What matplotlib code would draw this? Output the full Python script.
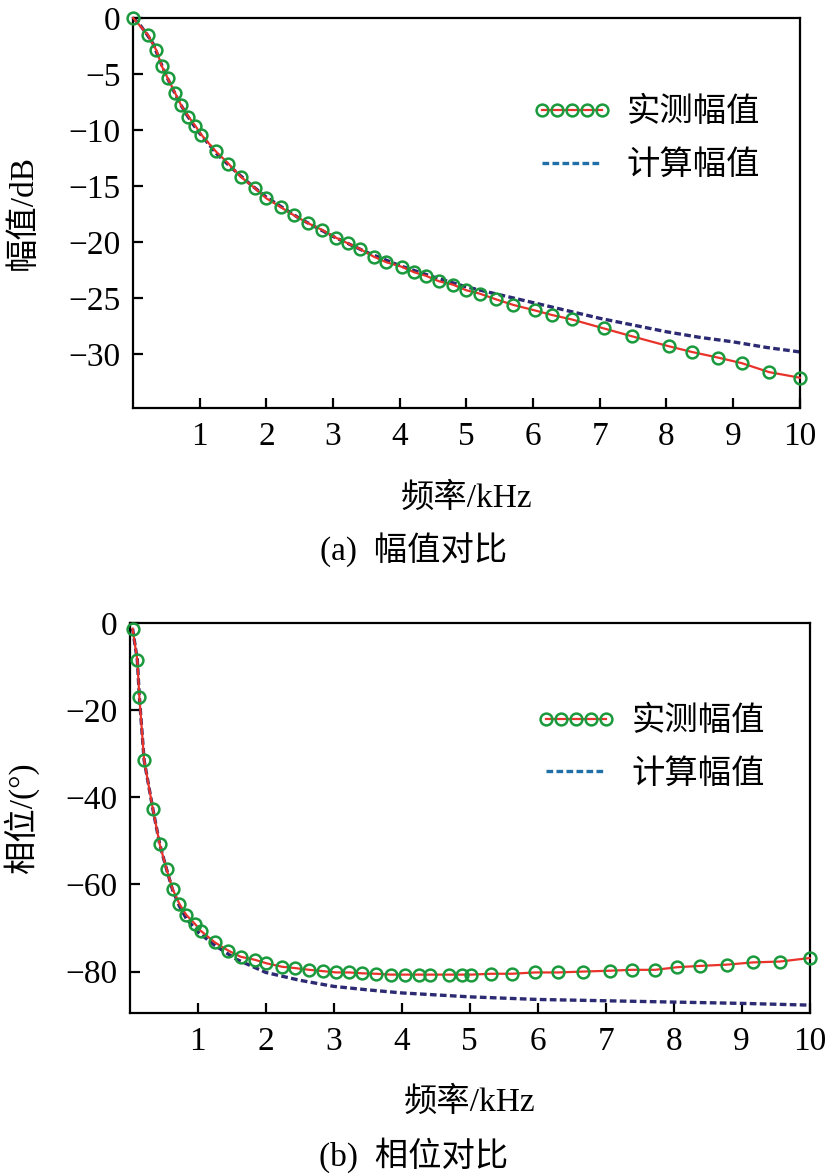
import numpy as np
import matplotlib
matplotlib.use("Agg")
import matplotlib.pyplot as plt
from matplotlib.lines import Line2D

plt.rcParams['font.family'] = ['Liberation Serif', 'Noto Sans CJK SC']
plt.rcParams['axes.unicode_minus'] = True

# 幅值对比 (a)
mag_f = [0, 0.22, 0.35, 0.43, 0.52, 0.63, 0.72, 0.83, 0.93, 1.02, 1.24, 1.43, 1.62, 1.83, 2.0,
         2.22, 2.41, 2.62, 2.83, 3.04, 3.22, 3.4, 3.61, 3.8, 4.03, 4.22, 4.39, 4.59, 4.8, 5.0,
         5.2, 5.44, 5.7, 6.03, 6.28, 6.58, 7.06, 7.48, 8.04, 8.38, 8.77, 9.13, 9.54, 10.0]
mag_meas = [0, -1.5, -2.9, -4.3, -5.4, -6.7, -7.8, -8.8, -9.6, -10.4, -11.9, -13.0, -14.2, -15.2, -16.1,
            -16.9, -17.6, -18.3, -18.9, -19.6, -20.1, -20.6, -21.3, -21.8, -22.2, -22.7, -23.0, -23.5, -23.8, -24.3,
            -24.6, -25.1, -25.6, -26.1, -26.5, -26.9, -27.7, -28.4, -29.3, -29.8, -30.3, -30.8, -31.6, -32.1]
mag_calc_f = [0, 0.1, 0.2, 0.3, 0.4, 0.5, 0.6, 0.7, 0.8, 0.9, 1.0, 1.25, 1.5, 1.75, 2.0, 2.5, 3.0,
              3.5, 4.0, 4.5, 5.0, 5.5, 6.0, 6.5, 7.0, 7.5, 8.0, 8.5, 9.0, 9.5, 10.0]
mag_calc = [0, -0.6, -1.4, -2.3, -3.8, -5.2, -6.4, -7.6, -8.6, -9.5, -10.3, -12.1, -13.5, -14.8, -16.0,
            -17.9, -19.5, -20.9, -22.1, -23.1, -24.0, -24.7, -25.4, -26.1, -26.8, -27.4, -28.0, -28.5,
            -28.9, -29.4, -29.8]

# 相位对比 (b)
ph_f = [0.04, 0.11, 0.14, 0.21, 0.34, 0.44, 0.54, 0.63, 0.73, 0.83, 0.96, 1.04, 1.25, 1.45, 1.63, 1.84,
        2.01, 2.24, 2.43, 2.64, 2.84, 3.04, 3.23, 3.42, 3.62, 3.84, 4.05, 4.25, 4.41, 4.69, 4.88, 5.02,
        5.32, 5.62, 5.96, 6.3, 6.66, 7.07, 7.38, 7.73, 8.05, 8.39, 8.79, 9.16, 9.56, 10.0]
ph_meas = [-1.3, -8.5, -16.9, -31.5, -42.8, -50.8, -56.5, -61.1, -64.5, -67.0, -69.1, -70.6, -73.3, -75.2,
           -76.6, -77.3, -78.1, -78.9, -79.2, -79.6, -79.9, -80.2, -80.2, -80.4, -80.5, -80.7, -80.7, -80.7,
           -80.7, -80.7, -80.7, -80.7, -80.5, -80.5, -80.2, -80.2, -80.0, -79.8, -79.6, -79.6, -79.0, -78.7,
           -78.4, -77.9, -77.7, -76.9]
ph_calc_f = [0.04, 0.11, 0.14, 0.21, 0.34, 0.44, 0.54, 0.63, 0.73, 0.83, 0.96, 1.0, 1.25, 1.57, 2.0, 2.5,
             3.0, 3.5, 4.0, 5.0, 6.0, 7.0, 8.0, 9.0, 10.0]
ph_calc = [-1.3, -8.5, -16.9, -31.5, -42.8, -50.8, -56.5, -61.3, -65.0, -67.8, -70.2, -70.9, -74.0, -77.2,
           -80.2, -82.0, -83.4, -84.2, -84.9, -85.8, -86.4, -86.7, -87.0, -87.3, -87.7]

red = '#e8322a'
green = '#1a9a3c'
navy = '#2c2a72'
blue = '#1f6fa8'
fs = 24

fig = plt.figure(figsize=(8.27, 11.75), dpi=100)
ax1 = fig.add_axes([0.161, 0.6528, 0.806, 0.3319])
ax2 = fig.add_axes([0.157, 0.1379, 0.822, 0.3319])


def style(ax):
    for s in ax.spines.values():
        s.set_linewidth(1.6)
    ax.tick_params(direction='in', length=7, width=1.6, labelsize=fs, top=False, right=False)
    ax.tick_params(axis='x', pad=10)
    ax.tick_params(axis='y', pad=9)
    ax.set_xlim(0, 10)
    ax.set_xticks(range(1, 11))


# (a)
ax1.plot(mag_calc_f, mag_calc, ls=(0, (2, 1)), color=navy, lw=2.4, zorder=2)
ax1.plot(mag_f, mag_meas, color=red, lw=1.6, marker='o', ms=8.5, mfc='none', mec=green, mew=1.8,
         zorder=3, clip_on=False)
style(ax1)
ax1.set_ylim(-34.8, 0)
ax1.set_yticks([0, -5, -10, -15, -20, -25, -30])
ax1.set_ylabel('幅值/dB', fontsize=fs, labelpad=21)
ax1.set_xlabel('频率/kHz', fontsize=fs, labelpad=22)

# (b)
ax2.plot(ph_calc_f, ph_calc, ls=(0, (2, 1)), color=navy, lw=2.4, zorder=2)
ax2.plot(ph_f, ph_meas, color=red, lw=1.6, marker='o', ms=8.5, mfc='none', mec=green, mew=1.8,
         zorder=3, clip_on=False)
style(ax2)
ax2.set_ylim(-89.5, 0)
ax2.set_yticks([0, -20, -40, -60, -80])
ax2.set_ylabel('相位/(°)', fontsize=fs, labelpad=19)
ax2.set_xlabel('频率/kHz', fontsize=fs, labelpad=21)

h_meas = Line2D([], [], color=red, lw=1.6, marker='o', ms=8.5, mfc='none', mec=green, mew=1.8)
h_calc = Line2D([], [], color=blue, lw=2.4, ls=(0, (2, 1)))
for ax, anchor in ((ax1, (0.598, 0.797)), (ax2, (0.598, 0.787))):
    ax.legend([h_meas, h_calc], ['实测幅值', '计算幅值'], loc='upper left', bbox_to_anchor=anchor,
              frameon=False, fontsize=fs, numpoints=5, handlelength=2.4, handletextpad=0.45,
              labelspacing=0.66, borderpad=0, borderaxespad=0)

fig.text(0.5, 1 - 550 / 1175, '(a)  幅值对比', ha='center', va='center', fontsize=fs)
fig.text(0.5, 1 - 1155 / 1175, '(b)  相位对比', ha='center', va='center', fontsize=fs)

fig.savefig('out.png', dpi=100)
